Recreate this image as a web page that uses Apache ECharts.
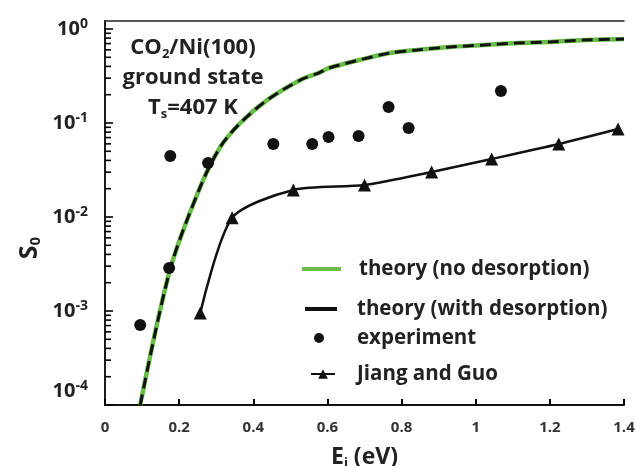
<!DOCTYPE html>
<html>
<head>
<meta charset="utf-8">
<script src="https://cdn.jsdelivr.net/npm/echarts@6/dist/echarts.min.js"></script>
<style>
html,body{margin:0;padding:0;background:#fff;}
#chart{width:636px;height:466px;}
</style>
</head>
<body>
<div id="chart"></div>
<script>
// ---- data ----
var theoryE = [0.095, 0.176, 0.257, 0.311, 0.365, 0.438, 0.527, 0.576, 0.605, 0.686, 0.768, 0.841, 0.93, 1.022, 1.111, 1.2, 1.292, 1.40];
var theoryNoDesorption = [1.0e-4, 2.8e-3, 0.0209, 0.0556, 0.100, 0.176, 0.287, 0.340, 0.385, 0.468, 0.555, 0.598, 0.644, 0.676, 0.71, 0.727, 0.764, 0.783];
var theoryWithDesorption = [1.0e-4, 2.8e-3, 0.0209, 0.0556, 0.100, 0.176, 0.287, 0.340, 0.385, 0.468, 0.555, 0.598, 0.644, 0.676, 0.71, 0.727, 0.764, 0.783];
var experimentE = [0.095, 0.173, 0.176, 0.278, 0.454, 0.559, 0.603, 0.684, 0.765, 0.819, 1.068];
var experimentS = [7.1e-4, 2.87e-3, 0.0446, 0.0375, 0.0598, 0.0598, 0.071, 0.0727, 0.148, 0.0885, 0.219];
var jiangE = [0.257, 0.343, 0.508, 0.70, 0.881, 1.043, 1.224, 1.384];
var jiangS = [9.5e-4, 9.8e-3, 0.0194, 0.0219, 0.0301, 0.0414, 0.0598, 0.0863];
var xTicks = [0, 0.2, 0.4, 0.6, 0.8, 1, 1.2, 1.4];
var yDecades = [-4, -3, -2, -1, 0];
var seriesNames = ['theory (no desorption)', 'theory (with desorption)', 'experiment', 'Jiang and Guo'];

function pairs(xs, ys){ return xs.map(function(x,i){ return [x, ys[i]]; }); }

// tick values of the log axis: each decade and 2..9 x each decade
var yTickValues = [];
yDecades.forEach(function(k, i){
  yTickValues.push([0, Math.pow(10, k), 1]);
  if (i < yDecades.length - 1) for (var m = 2; m <= 9; m++) yTickValues.push([0, m * Math.pow(10, k), 0]);
});

var FONT = '"Open Sans", "DejaVu Sans", sans-serif';
var TXT = '#222';
var GREEN = '#68bd48';
var Y_MAX = Math.pow(10, 8/94);

var chart = echarts.init(document.getElementById('chart'), null, {renderer:'canvas'});

function legendFor(item, left, top, itemWidth, itemHeight, padLeft){
  return {
    show: true,
    data: [item],
    left: left, top: top,
    orient: 'vertical',
    padding: 0,
    itemWidth: itemWidth, itemHeight: itemHeight,
    selectedMode: false,
    textStyle: {fontFamily: FONT, fontWeight: 'bold', fontSize: 20.5, color: TXT, lineHeight: 22, padding: [0,0,0,padLeft]}
  };
}

var option = {
  animation: false,
  backgroundColor: '#fff',
  grid: {left: 105, right: 12, top: 21, bottom: 61, outerBoundsMode: 'none', containLabel: false, show: false},
  xAxis: [{
    type: 'value', min: 0, max: 1.4, interval: 0.2, position: 'bottom',
    name: '{a|E}{s|i}{a| (eV)}', nameLocation: 'middle', nameGap: 40,
    nameTextStyle: {rich: {
      a: {fontFamily: FONT, fontWeight: 'bold', fontSize: 23, color: TXT},
      s: {fontFamily: FONT, fontWeight: 'bold', fontSize: 13, color: TXT, verticalAlign: 'bottom', padding: [12,0,0,0]}
    }},
    axisLine: {lineStyle: {color: '#111', width: 2}},
    axisTick: {show: true, inside: true, length: 6, lineStyle: {color: '#000', width: 2}},
    splitLine: {show: false},
    axisLabel: {margin: 15, color: '#333', fontFamily: FONT, fontWeight: 'bold', fontSize: 15,
      formatter: function(v){ return String(Math.round(v*10)/10); }}
  }, {
    type: 'value', min: 0, max: 1.4, interval: 0.2, position: 'top',
    axisLine: {show: true, lineStyle: {color: '#222', width: 1.5}},
    axisTick: {show: false}, axisLabel: {show: false}, splitLine: {show: false}
  }],
  yAxis: [{
    type: 'log', logBase: 10, min: 1e-4, max: Y_MAX, position: 'left',
    axisLine: {show: true, lineStyle: {color: '#111', width: 2}},
    axisTick: {show: false},
    splitLine: {show: false},
    axisLabel: {
      margin: 17, showMaxLabel: false,
      formatter: function(v){
        var l = Math.log10(v); var e = Math.round(l);
        if (Math.abs(l - e) > 1e-6) return '';
        if (e === -4) return '{b|10}{s|' + e + '}\n{gap| }';
        return '{b|10}{s|' + e + '}';
      },
      rich: {
        b: {fontFamily: FONT, fontWeight: 'bold', fontSize: 20, color: TXT, lineHeight: 24},
        s: {fontFamily: FONT, fontWeight: 'bold', fontSize: 14, color: TXT, verticalAlign: 'top', lineHeight: 15},
        gap: {fontSize: 10, lineHeight: 28}
      }
    }
  }, {
    type: 'log', logBase: 10, min: 1e-4, max: Y_MAX, position: 'right',
    axisLine: {show: true, lineStyle: {color: '#222', width: 1.5}},
    axisTick: {show: false}, axisLabel: {show: false}, splitLine: {show: false}
  }],
  legend: [
    legendFor({name: seriesNames[0], lineStyle: {width: 4}}, 300, 258, 39, 4, 13),
    legendFor({name: seriesNames[1], lineStyle: {type: 'solid', width: 4}}, 303, 298, 32, 4, 15),
    legendFor(seriesNames[2], 314, 327, 10, 10, 28),
    legendFor(seriesNames[3], 310, 363, 24, 12, 17)
  ],
  graphic: [
    {type: 'text', x: 193, y: 48, style: {
      text: '{a|CO}{s|2}{a|/Ni(100)}', align: 'center', verticalAlign: 'middle',
      rich: {a: {fontFamily: FONT, fontWeight: 'bold', fontSize: 22, fill: TXT},
             s: {fontFamily: FONT, fontWeight: 'bold', fontSize: 13, fill: TXT, verticalAlign: 'bottom', padding: [12,0,0,0]}}
    }},
    {type: 'text', x: 193, y: 78, style: {
      text: 'ground state', align: 'center', verticalAlign: 'middle',
      font: 'bold 22px ' + FONT, fill: TXT
    }},
    {type: 'text', x: 193, y: 108, style: {
      text: '{a|T}{s|s}{a|=407 K}', align: 'center', verticalAlign: 'middle',
      rich: {a: {fontFamily: FONT, fontWeight: 'bold', fontSize: 22, fill: TXT},
             s: {fontFamily: FONT, fontWeight: 'bold', fontSize: 13, fill: TXT, verticalAlign: 'bottom', padding: [12,0,0,0]}}
    }},
    {type: 'text', x: 30, y: 248, rotation: Math.PI/2, style: {
      text: '{a|S}{s|0}', align: 'center', verticalAlign: 'middle',
      rich: {a: {fontFamily: FONT, fontWeight: 'bold', fontSize: 25, fill: TXT},
             s: {fontFamily: FONT, fontWeight: 'bold', fontSize: 15, fill: TXT, verticalAlign: 'bottom', padding: [12,0,0,0]}}
    }}
  ],
  series: [
    {name: seriesNames[0], type: 'line', data: pairs(theoryE, theoryNoDesorption),
     smooth: 0.3, showSymbol: false, symbol: 'none',
     lineStyle: {color: GREEN, width: 4.5}, itemStyle: {color: GREEN}, z: 2},
    {name: seriesNames[1], type: 'line', data: pairs(theoryE, theoryWithDesorption),
     smooth: 0.3, showSymbol: false, symbol: 'none',
     lineStyle: {color: '#111', width: 3, type: [11, 6]}, itemStyle: {color: '#111'}, z: 3},
    {name: seriesNames[2], type: 'scatter', data: pairs(experimentE, experimentS),
     symbol: 'circle', symbolSize: 12, itemStyle: {color: '#111', opacity: 1}, z: 5},
    {name: seriesNames[3], type: 'line', data: pairs(jiangE, jiangS),
     smooth: 0.25, symbol: 'triangle', symbolSize: 13, showSymbol: true,
     lineStyle: {color: '#111', width: 2.5}, itemStyle: {color: '#111'}, z: 4},
    {name: 'yTicks', type: 'custom', coordinateSystem: 'cartesian2d',
     xAxisIndex: 0, yAxisIndex: 0,
     encode: {x: 0, y: 1},
     data: yTickValues, silent: true, clip: false, z: 10,
     renderItem: function(params, api){
       var p = api.coord([api.value(0), api.value(1)]);
       var len = api.value(2) ? 8 : 6;
       return {type: 'rect', shape: {x: p[0], y: p[1] - 0.8, width: len, height: 1.6},
               style: {fill: '#000'}};
     }}
  ]
};
chart.setOption(option);
</script>
</body>
</html>
